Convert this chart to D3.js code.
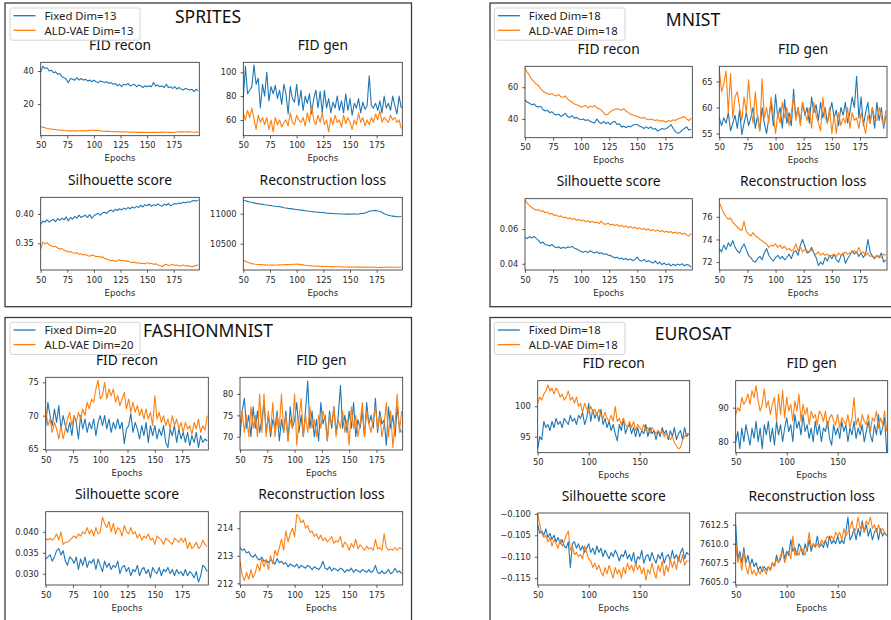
<!DOCTYPE html>
<html><head><meta charset="utf-8">
<script src="https://cdn.jsdelivr.net/npm/d3@7"></script>
<style>body{margin:0;background:#fff}svg{display:block}</style>
</head><body>
<svg id="c" width="891" height="620"></svg>
<script>
// ---------- x axis (epochs 50..198, every 2nd epoch) ----------
const epochs = d3.range(50, 199, 2);
const xTicksQuarter = [50, 75, 100, 125, 150, 175];
const xTicksHalf = [50, 100, 150];

// ---------- SPRITES ----------
const spritesFidReconFixed = [39.5,43,41.5,42,40,40.5,39,39.5,38,38.5, 36.5,36,35,33,35.5,35,34.5,36,34.5,35.5, 34.5,35,34,34.5,33.5,34.5,33.5,33,34,33.5, 33,33.5,32.5,33,32,32.5,31,32,30.5,32, 31.5,32.5,31,31.5,32,30.5,31.5,31,30,31, 30.5,31,30.5,33,31,31.5,30.5,31,30,32, 30,30.5,29.5,30.5,29,30,29,28.5,29.5,29, 28.5,29,27.5,29,28];
const spritesFidReconAld = [6.2,6.0,5.6,5.2,5.0,4.8,4.7,4.5,4.3,4.1, 4.2,4.0,3.8,3.7,3.6,3.8,3.7,3.6,3.8,3.9, 3.8,3.7,3.9,4.0,4.1,4.2,4.0,3.9,3.8,3.6, 3.5,3.6,3.4,3.3,3.2,3.3,3.2,3.1,3.2,3.0, 3.1,3.0,2.9,3.0,2.9,2.8,2.9,2.8,2.8,2.7, 2.8,2.7,2.8,2.9,2.8,2.7,2.9,2.8,3.0,2.9, 2.8,2.9,2.7,2.9,3.0,3.1,3.2,3.1,3.0,3.1, 3.2,3.0,2.9,3.0,2.8];
const spritesFidGenFixed = [78,105,82,85,88,106,90,95,70,90, 80,100,76,88,82,89,78,85,73,90, 82,65,88,78,75,90,72,85,68,80, 74,82,65,78,85,70,84,66,85,70, 78,66,75,70,80,68,76,66,82,68, 78,64,74,70,78,66,75,69,72,97, 72,70,74,68,76,66,80,70,74,68, 80,72,65,80,70];
const spritesFidGenAld = [66,60,68,62,70,61,52,64,58,62, 56,62,52,60,50,62,56,60,54,58, 60,55,66,58,56,64,60,58,62,55, 66,58,72,60,56,64,58,66,56,60, 50,62,56,64,58,60,54,64,57,62, 58,52,60,56,66,58,62,55,60,56, 62,58,65,60,68,58,62,60,58,64, 60,62,58,60,53];
const spritesSilFixed = [0.382,0.388,0.386,0.390,0.386,0.389,0.391,0.387,0.392,0.389, 0.393,0.390,0.395,0.388,0.394,0.391,0.396,0.393,0.398,0.394, 0.396,0.398,0.394,0.399,0.393,0.397,0.399,0.401,0.398,0.402, 0.403,0.401,0.405,0.407,0.404,0.408,0.406,0.409,0.407,0.410, 0.408,0.411,0.409,0.412,0.410,0.413,0.411,0.415,0.412,0.416, 0.414,0.417,0.413,0.416,0.414,0.417,0.415,0.413,0.417,0.415, 0.418,0.414,0.416,0.418,0.417,0.419,0.418,0.420,0.419,0.421, 0.420,0.422,0.423,0.422,0.424];
const spritesSilAld = [0.340,0.352,0.349,0.351,0.347,0.346,0.344,0.345,0.342,0.340, 0.341,0.338,0.337,0.335,0.336,0.334,0.333,0.334,0.331,0.332, 0.330,0.331,0.329,0.328,0.330,0.329,0.327,0.328,0.326,0.327, 0.324,0.323,0.322,0.320,0.321,0.319,0.320,0.322,0.320,0.321, 0.319,0.320,0.318,0.317,0.318,0.316,0.317,0.315,0.316,0.315, 0.317,0.315,0.316,0.314,0.315,0.313,0.312,0.310,0.313,0.314, 0.312,0.313,0.314,0.312,0.313,0.311,0.312,0.313,0.311,0.312, 0.311,0.310,0.311,0.312,0.313];
const spritesRecFixed = [11228,11215,11205,11195,11190,11180,11172,11168,11160,11155, 11148,11144,11140,11135,11128,11125,11120,11115,11110,11100, 11095,11088,11085,11080,11075,11068,11065,11060,11055,11050, 11044,11040,11036,11030,11028,11025,11022,11020,11015,11010, 11008,11005,11003,11000,10998,10996,10995,10994,10992,10995, 10992,10995,10998,10990,10996,11002,11006,11010,11025,11042, 11050,11048,11055,11045,11040,11020,11000,10985,10975,10965, 10960,10955,10950,10948,10952];
const spritesRecAld = [10228,10205,10190,10178,10168,10162,10158,10154,10152,10150, 10148,10146,10145,10143,10144,10146,10145,10148,10150,10149, 10152,10154,10150,10155,10158,10160,10156,10152,10148,10142, 10138,10134,10130,10128,10126,10125,10124,10122,10120,10122, 10120,10118,10119,10117,10116,10115,10114,10113,10112,10111, 10110,10112,10111,10110,10112,10110,10111,10109,10110,10108, 10110,10108,10106,10104,10105,10106,10108,10110,10108,10107, 10109,10108,10107,10109,10108];

// ---------- MNIST ----------
const mnistFidReconFixed = [52,50.5,50,49,49.5,48,47.5,48,46,45, 45.5,44,44.5,43,42.5,43,41.5,42.5,43.5,41.5, 41,42,40.5,41,40,39.5,40,39,39.5,38.5, 38,37.5,40,38,37,38.5,37,38,36.5,38, 38.5,36.5,37,35,35.5,34.5,35.5,35,36,36.5, 36.5,35.5,35,34,35,34,35,33.5,34,32.5, 33,34,33.5,34,35,36.5,34,32,31,31.5, 33,34,35,33,33.5];
const mnistFidReconAld = [72,69.5,67.5,65,63.5,62,61,59,57.5,56.5, 56,55.5,56,55,54.5,55.5,54,53.5,54.5,52.5, 51.5,50.5,49.5,49,48.5,47.5,48,48.5,47,48, 47.5,48.5,47,46.5,45.5,44,42.5,43,44.5,45.5, 46,46.5,46,45.5,46.5,45,44,43,42.5,42, 41.5,41,40.5,41,40,39.5,40,39.5,39,39.5, 38.5,39,38.5,38,39,38.5,39.5,39,40,40.5, 41,41.5,40,39,40.5];
const mnistFidGenFixed = [58,56.5,58,57,59,55.5,57,58.5,56,59.5, 54.8,57,59,56.5,58,60,56,58.5,55.5,60, 57,55,58,61,56.5,62.5,58,60,56,61.5, 57,59,56.5,63.5,58,60,57,61,58.5,60, 57,62,59,60.5,57.5,61,58,60,57,59, 61,58,59.5,56.5,60,58.5,61,57,59,62, 60,66,58,62,56.5,59,61,57,60,56, 61,57.5,60,56,58.5];
const mnistFidGenAld = [67.5,63,64.5,67,59,66.5,58,62,63,60, 57.5,62,59,65.3,60,57,63,58,55.5,65.5, 58,60,57,62,58.5,55,59,57,61,58, 60,56.5,59,62,57.5,60,56.5,61,59,57.5, 60,56,61,58.5,57,55.5,62,58,57,60, 55,58.5,55,59,56.5,58,57,60,56,59, 57.5,58,56,59,57,55,58.5,57,60,58, 57.5,60,58,56.5,59.5];
const mnistSilFixed = [0.0552,0.0545,0.0556,0.0548,0.0558,0.0546,0.0535,0.0518,0.0525,0.0510, 0.0508,0.0502,0.0512,0.0498,0.0492,0.0498,0.0488,0.0495,0.0490,0.0497, 0.0495,0.0500,0.0490,0.0485,0.0478,0.0470,0.0466,0.0472,0.0464,0.0475, 0.0468,0.0462,0.0470,0.0459,0.0463,0.0455,0.0458,0.0450,0.0447,0.0440, 0.0434,0.0438,0.0428,0.0433,0.0424,0.0430,0.0422,0.0427,0.0418,0.0425, 0.0438,0.0420,0.0415,0.0425,0.0412,0.0418,0.0410,0.0404,0.0416,0.0400, 0.0409,0.0395,0.0404,0.0392,0.0400,0.0388,0.0397,0.0390,0.0398,0.0392, 0.0400,0.0388,0.0396,0.0392,0.0379];
const mnistSilAld = [0.0767,0.0748,0.0735,0.0724,0.0716,0.0710,0.0712,0.0702,0.0706,0.0694, 0.0698,0.0686,0.0690,0.0678,0.0682,0.0672,0.0676,0.0666,0.0670,0.0660, 0.0665,0.0656,0.0660,0.0650,0.0655,0.0647,0.0652,0.0643,0.0648,0.0638, 0.0645,0.0636,0.0640,0.0632,0.0645,0.0630,0.0628,0.0634,0.0624,0.0628, 0.0620,0.0626,0.0615,0.0621,0.0612,0.0618,0.0608,0.0614,0.0606,0.0611, 0.0600,0.0608,0.0598,0.0603,0.0594,0.0600,0.0590,0.0597,0.0588,0.0594, 0.0585,0.0592,0.0582,0.0588,0.0580,0.0586,0.0576,0.0583,0.0574,0.0580, 0.0570,0.0576,0.0566,0.0560,0.0575];
const mnistRecFixed = [73.2,72.9,73.5,73.1,73.7,73.4,73.9,73.3,73.0,72.8, 73.3,73.6,73.1,72.6,72.4,72.1,72.0,72.3,72.5,72.2, 72.8,73.2,72.6,72.3,72.1,72.4,72.6,72.3,72.5,72.2, 72.4,72.7,72.3,72.9,73.0,72.6,73.5,74.0,73.4,72.8, 72.9,73.3,72.8,72.4,71.7,72.0,71.8,72.4,72.1,72.6, 72.3,72.7,72.2,72.0,72.5,72.8,71.9,72.3,72.6,73.0, 72.7,72.9,72.5,72.8,72.4,72.7,74.0,72.9,72.5,72.3, 72.6,72.4,72.8,72.0,72.2];
const mnistRecAld = [77.3,76.8,76.3,76.0,75.8,75.9,75.5,75.3,75.1,74.9, 74.8,75.6,74.7,74.5,74.3,74.6,74.3,74.2,74.0,73.9, 73.7,73.6,73.3,73.5,73.4,73.6,73.3,73.5,73.2,73.4, 73.1,73.2,73.0,73.1,73.6,73.0,73.3,72.9,73.1,73.0, 72.9,73.1,72.8,72.7,72.9,72.6,72.8,72.6,72.7,72.5, 72.6,72.7,72.5,72.8,72.6,72.7,72.9,72.7,72.8,72.9, 73.0,72.8,73.3,72.8,72.9,72.6,72.8,72.5,72.6,72.4, 72.6,72.5,72.4,72.7,72.6];

// ---------- FASHIONMNIST ----------
const fashionFidReconFixed = [68.5,72,70,68.5,71,69,71.5,68,70,68.5, 67.5,69,67,70,69,66.5,70,68,69.5,67.5, 69,68,69.5,67,69,70,68.5,70,68,69.5, 67.5,69,68,69.5,68,69,65.8,68,68.5,70.3, 67.5,69,68,66.5,68.5,67,69,66,68.5,67, 68.5,66.5,68,67,68.5,66,65.2,68,67,68.5, 66,68,66.5,67.5,66,67.5,65.5,67,66,67.5, 65.2,67,66,66.5,66.2];
const fashionFidReconAld = [71,68.5,69.5,67.5,69,68,66.5,68.5,66.5,68, 69.5,70.5,68.5,70,69,70.5,69.5,71,70,72, 71,72.5,72,74,75.3,72.5,73,75,72.5,74, 73,74,72,73,71.5,72.5,73.5,71,72.5,70.5, 72,70.5,71.5,70,71,69.5,71,69.5,70.5,68.5, 73,69.5,70.5,69,70,68.5,69.5,68,70,68.5, 69.5,68,69,67.5,69,68,68.5,67.2,69,68, 69.5,67.5,68.5,67.8,70];
const fashionFidGenFixed = [70,76,79,72,75,70,77,72,76,71, 74,78,71,75,70,74,72,76,69,74, 71,76,69,77,72,74,78,71,75,70, 76,83,72,76,70,74,69,78,73,75, 69,76,72,77,71,75,82,72,75,71, 76,72,78,70,74,72,76,70,78,73, 75,72,79,71,76,73,74,68,77,72, 75,70,77,72,71];
const fashionFidGenAld = [73,76,71,75,70,77,72,75,70,80, 71,80,70,76,71,78,70,75,72,80, 71,75,69,74,72,80,68,74,79,70, 75,71,77,72,74,70,75,72,76,74, 69,75,73,77,70,74,72,76,71,74, 68,77,72,75,70,73,78,70,76,73, 71,74,77,72,75,70,73,78,70,76, 67.5,73,80,71,76];
const fashionSilFixed = [0.0335,0.034,0.0345,0.033,0.034,0.0355,0.036,0.0345,0.0355,0.033, 0.032,0.034,0.0335,0.0325,0.034,0.031,0.0335,0.032,0.034,0.0315, 0.033,0.0325,0.0335,0.031,0.0335,0.032,0.0305,0.033,0.0315,0.0325, 0.031,0.032,0.0315,0.033,0.030,0.0315,0.032,0.0305,0.0315,0.0295, 0.031,0.0305,0.032,0.0295,0.031,0.0315,0.030,0.031,0.029,0.0315, 0.0305,0.030,0.0315,0.0295,0.031,0.0305,0.0315,0.030,0.031,0.0295, 0.031,0.030,0.0305,0.0295,0.031,0.0295,0.0305,0.030,0.029,0.0305, 0.028,0.0295,0.032,0.0315,0.0305];
const fashionSilAld = [0.0385,0.038,0.0385,0.038,0.0385,0.0395,0.038,0.040,0.037,0.0375, 0.0375,0.038,0.0385,0.039,0.0385,0.0395,0.039,0.040,0.0395,0.041, 0.0395,0.0405,0.039,0.041,0.0395,0.040,0.0435,0.042,0.041,0.0425, 0.040,0.042,0.0395,0.041,0.0405,0.039,0.0415,0.040,0.0395,0.041, 0.0395,0.040,0.0385,0.0395,0.038,0.039,0.0385,0.0395,0.038,0.0385, 0.037,0.039,0.0385,0.038,0.037,0.0385,0.038,0.0375,0.037,0.0385, 0.038,0.0375,0.0385,0.0375,0.0385,0.036,0.0375,0.036,0.0365,0.0375, 0.036,0.0365,0.038,0.037,0.0365];
const fashionRecFixed = [213.3,213.2,213.25,213.1,213.15,213.0,212.95,213.05,212.9,212.85, 212.95,212.8,212.85,212.75,212.85,212.8,212.7,212.9,212.75,212.8, 212.7,212.75,212.6,212.7,212.65,212.6,212.7,212.55,212.65,212.6, 212.55,212.65,212.6,212.5,212.6,212.55,212.5,212.6,212.8,212.55, 212.5,212.6,212.45,212.55,212.5,212.45,212.55,212.5,212.4,212.5, 212.45,212.55,212.4,212.5,212.45,212.4,212.5,212.45,212.4,212.5, 212.4,212.45,212.65,212.4,212.35,212.45,212.35,212.4,212.5,212.35, 212.4,212.55,212.4,212.45,212.35];
const fashionRecAld = [212.8,212.3,212.1,212.4,212.15,212.5,212.2,212.4,212.7,212.45, 212.9,212.6,212.85,212.5,213.0,212.7,213.2,213.0,213.3,213.6, 213.2,213.9,213.5,213.8,214.0,213.7,214.5,214.4,214.2,214.3, 214.0,214.1,213.85,213.9,213.7,213.8,213.6,213.75,213.55,213.65, 213.5,213.6,213.7,213.45,213.55,213.5,213.7,213.3,213.5,213.4, 213.2,213.45,213.3,213.6,213.25,213.4,213.3,213.2,213.35,213.25, 213.3,213.2,213.6,213.25,213.3,213.2,213.8,213.3,213.2,213.25, 213.2,213.3,213.2,213.3,213.25];

// ---------- EUROSAT ----------
const eurosatFidReconFixed = [93,95,94.5,97.5,96.5,97,96,97.5,96.5,98, 97,97.5,96.5,98,97.5,97,98.5,97.5,98,97, 98.5,98,99,97,98,100.5,97.5,99.5,98,99, 97.5,99.5,97,98,96.5,97.5,96,97,95.5,94.3, 97,96,98,95.5,96.5,97,95.5,96.5,95,96.5, 95,96,95.5,97,95,96.5,95.5,96,94.5,96, 95,96.5,95.5,96,94.5,96,95,96.5,94.5,95.5, 96,94.5,96.5,95,95.5];
const eurosatFidReconAld = [100.5,101.5,101,102,102.5,103.5,102.5,103,102,103, 102.5,101.5,102,101,101.5,102.5,101,101.5,100.5,101.5, 100,100.5,99,100.5,99.5,99,100,99,99.5,98.5, 99.5,98.5,98,99,98,97.5,98.5,97.5,100,97.5, 98,97,98,97,96.5,97.5,96.5,97.5,96,97, 96.5,96,97,96,96.5,95.5,96.5,96,95.5,96, 95.5,96,95,95.5,95,94.5,95,94,93.5,93, 93.2,94.5,95,95.5,95.5];
const eurosatFidGenFixed = [80,83,78,84,80,85,82,79,84,81, 86,80,84,78,85,82,86,80,84,79, 86,82,85,80,84,87,83,85,80,88, 84,86,82,88,83,85,81,84,80,86, 82,85,80,84,83,86,81,79,85,82, 84,81,86,83,85,80,84,82,86,81, 84,82,85,80,83,86,82,80,85,82, 88,82,84,87,77];
const eurosatFidGenAld = [88,90,89,93,91,92,94,91,95,93, 96.5,92,89,91,95.5,90,92,88,91,93, 86,94,88,95,87,93,89,91,86,92, 89,94,86,91,88,90,85,89,87,88, 85,89,88,86,89,84,87,88,86,85, 88,84,87,86,85,88,84,87,93,85, 87,84,88,86,85,88,83,87,86,89, 84,87,85,89,83];
const eurosatSilFixed = [-0.1025,-0.1045,-0.1040,-0.1050,-0.1035,-0.1055,-0.1045,-0.1060,-0.1050,-0.1065, -0.1055,-0.1070,-0.1060,-0.1075,-0.1080,-0.1065,-0.1125,-0.1070,-0.1065,-0.1080, -0.1070,-0.1085,-0.1075,-0.1090,-0.1080,-0.1070,-0.1090,-0.1080,-0.1095,-0.1075, -0.1090,-0.1080,-0.1100,-0.1085,-0.1095,-0.1105,-0.1090,-0.1100,-0.1085,-0.1095, -0.1110,-0.1095,-0.1100,-0.1085,-0.1105,-0.1095,-0.1110,-0.1090,-0.1120,-0.1100, -0.1105,-0.1085,-0.1115,-0.1100,-0.1095,-0.1110,-0.1090,-0.1105,-0.1115,-0.1095, -0.1105,-0.1090,-0.1115,-0.1100,-0.1095,-0.1110,-0.1085,-0.1105,-0.1095,-0.1110, -0.1090,-0.1080,-0.1105,-0.1090,-0.1095];
const eurosatSilAld = [-0.1000,-0.1025,-0.1045,-0.1055,-0.1050,-0.1065,-0.1055,-0.1075,-0.1060,-0.1070, -0.1080,-0.1060,-0.1075,-0.1065,-0.1050,-0.1040,-0.1085,-0.1075,-0.1095,-0.1090, -0.1100,-0.1095,-0.1105,-0.1075,-0.1090,-0.1105,-0.1110,-0.1125,-0.1115,-0.1130, -0.1120,-0.1135,-0.1145,-0.1125,-0.1140,-0.1120,-0.1135,-0.1150,-0.1125,-0.1140, -0.1130,-0.1150,-0.1125,-0.1140,-0.1115,-0.1130,-0.1120,-0.1135,-0.1115,-0.1130, -0.1120,-0.1140,-0.1125,-0.1155,-0.1130,-0.1140,-0.1115,-0.1135,-0.1150,-0.1120, -0.1135,-0.1110,-0.1145,-0.1120,-0.1135,-0.1105,-0.1125,-0.1110,-0.1130,-0.1100, -0.1115,-0.1095,-0.1120,-0.1110,-0.1110];
const eurosatRecFixed = [7612.5,7608,7609,7607.5,7609.5,7607.5,7608.5,7607,7608,7607, 7607.5,7606.5,7607,7606.3,7607,7606.5,7607,7606.5,7607.5,7607, 7608.5,7607.5,7608,7609.5,7608,7609,7608.5,7610.5,7609,7609.5, 7608.5,7610,7609.5,7608.5,7610,7609,7610.5,7609,7610,7609.5, 7611,7609.5,7610,7609.5,7610.5,7609.5,7611,7610,7610.5,7610, 7611,7610,7610.5,7610,7611.5,7613.5,7610.5,7611,7612,7610.5, 7612,7611,7613,7611.5,7612.5,7611,7612,7610.5,7611.5,7612, 7610.5,7612,7611,7611.5,7611];
const eurosatRecAld = [7610,7607.5,7608.5,7606.5,7609,7607,7606,7607.5,7606,7606.5, 7605.8,7606.5,7606,7607,7606.5,7606,7607,7606.5,7607.5,7607, 7608,7607.5,7608.5,7609,7607.5,7608.5,7609,7608,7611,7608.5, 7609,7608.5,7609.5,7609,7608.5,7609.5,7611.5,7609.5,7610,7609.5, 7610,7609.5,7610.5,7610,7610.5,7611,7610.5,7611,7610.5,7611.5, 7611,7611.5,7610.5,7612,7611,7611.5,7612,7613,7611.5,7612, 7613.5,7612,7612.5,7611.5,7613,7612.5,7613.5,7612,7612.5,7611.5, 7612.5,7611.5,7612,7611.5,7611];

// ---------- y tick values ----------
const spritesYTicks = [[20, 40], [60, 80, 100], [0.35, 0.40], [10500, 11000]];
const mnistYTicks = [[40, 60], [55, 60, 65], [0.04, 0.06], [72, 74, 76]];
const fashionYTicks = [[65, 70, 75], [70, 75, 80], [0.030, 0.035, 0.040], [212, 213, 214]];
const eurosatYTicks = [[95, 100], [80, 90], [-0.115, -0.110, -0.105, -0.100], [7605, 7607.5, 7610, 7612.5]];

const subTitles = ["FID recon", "FID gen", "Silhouette score", "Reconstruction loss"];
const panelTitles = ["SPRITES", "MNIST", "FASHIONMNIST", "EUROSAT"];
const legendDims = [13, 18, 20, 18];

// ---------- layout (positions / styles only) ----------
const BLUE = "#1f77b4", ORANGE = "#ff7f0e";
const svg = d3.select("#c");

const panels = [
  { frame: [5, 3, 411.5, 306.7], title: [208, 22.5], legend: [10, 8, 130],
    boxes: [[40.7, 62.3, 199.3, 135.7], [243.3, 62.3, 402.3, 135.7], [40.7, 197.3, 199.3, 270], [243.3, 197.3, 402.3, 270]],
    ydoms: [[0.8, 45.3], [46.8, 108.4], [0.3044, 0.4285], [10062, 11273]],
    fmts: ["d", "d", ".2f", "d"], yticks: spritesYTicks, xticks: xTicksQuarter,
    series: [[spritesFidReconFixed, spritesFidReconAld], [spritesFidGenFixed, spritesFidGenAld], [spritesSilFixed, spritesSilAld], [spritesRecFixed, spritesRecAld]] },
  { frame: [490, 3, 900, 306.7], title: [693, 25.5], legend: [494.3, 8, 130.7],
    boxes: [[525, 66.3, 692.3, 137.7], [719.3, 66.3, 887, 137.7], [525, 198.7, 692.3, 270], [719.3, 198.7, 887, 270]],
    ydoms: [[28.2, 73.2], [54.2, 67.9], [0.0364, 0.0775], [71.3, 77.6]],
    fmts: ["d", "d", ".2f", "d"], yticks: mnistYTicks, xticks: xTicksQuarter,
    series: [[mnistFidReconFixed, mnistFidReconAld], [mnistFidGenFixed, mnistFidGenAld], [mnistSilFixed, mnistSilAld], [mnistRecFixed, mnistRecAld]] },
  { frame: [5, 317.5, 411.5, 640], title: [208, 337], legend: [10, 322.3, 130],
    boxes: [[45.7, 377.3, 208.3, 450], [240, 377.3, 402.7, 450], [45.7, 511.7, 208.3, 585], [240, 511.7, 402.7, 585]],
    ydoms: [[64.85, 75.75], [66.9, 83.9], [0.0273, 0.0448], [211.94, 214.6]],
    fmts: ["d", "d", ".3f", "d"], yticks: fashionYTicks, xticks: xTicksQuarter,
    series: [[fashionFidReconFixed, fashionFidReconAld], [fashionFidGenFixed, fashionFidGenAld], [fashionSilFixed, fashionSilAld], [fashionRecFixed, fashionRecAld]] },
  { frame: [490, 317.5, 900, 640], title: [693, 340], legend: [494.3, 322.3, 130.7],
    boxes: [[537.7, 380.7, 689.7, 452.7], [735.7, 380.7, 887.7, 452.7], [537.7, 513, 689.7, 585], [735.7, 513, 887.7, 585]],
    ydoms: [[92.36, 104.2], [76.8, 97.9], [-0.1166, -0.0998], [7604.57, 7614.04]],
    fmts: ["d", "d", ".3f", ".1f"], yticks: eurosatYTicks, xticks: xTicksHalf,
    series: [[eurosatFidReconFixed, eurosatFidReconAld], [eurosatFidGenFixed, eurosatFidGenAld], [eurosatSilFixed, eurosatSilAld], [eurosatRecFixed, eurosatRecAld]] }
];

let clipId = 0;
panels.forEach((p, pi) => {
  const [fx0, fy0, fx1, fy1] = p.frame;
  svg.append("rect").attr("x", fx0).attr("y", fy0).attr("width", fx1 - fx0).attr("height", fy1 - fy0)
    .attr("fill", "none").attr("stroke", "#3a3a3a").attr("stroke-width", 1.3);

  p.boxes.forEach((b, si) => {
    const [x0, y0, x1, y1] = b;
    const x = d3.scaleLinear().domain([50, 199]).range([x0, x1]);
    const y = d3.scaleLinear().domain(p.ydoms[si]).range([y1, y0]);
    const g = svg.append("g");
    const cid = "clip" + (clipId++);
    g.append("clipPath").attr("id", cid).append("rect").attr("x", x0).attr("y", y0).attr("width", x1 - x0).attr("height", y1 - y0);

    const line = d3.line().defined((d, i) => i < epochs.length).x((d, i) => x(epochs[i])).y(d => y(d));
    const [fixed, ald] = p.series[si];
    g.append("path").datum(fixed).attr("d", line).attr("fill", "none").attr("stroke", BLUE).attr("stroke-width", 1.1).attr("stroke-linejoin", "round").attr("clip-path", `url(#${cid})`);
    g.append("path").datum(ald).attr("d", line).attr("fill", "none").attr("stroke", ORANGE).attr("stroke-width", 1.1).attr("stroke-linejoin", "round").attr("clip-path", `url(#${cid})`);

    const xa = g.append("g").attr("transform", `translate(0,${y1})`)
      .call(d3.axisBottom(x).tickValues(p.xticks).tickSize(2.8).tickPadding(4).tickFormat(d3.format("d")));
    const ya = g.append("g").attr("transform", `translate(${x0},0)`)
      .call(d3.axisLeft(y).tickValues(p.yticks[si]).tickSize(2.8).tickPadding(4).tickFormat(d3.format(p.fmts[si])));
    [xa, ya].forEach(a => {
      a.select(".domain").remove();
      a.selectAll(".tick line").attr("stroke", "#333").attr("stroke-width", 0.8);
      a.selectAll(".tick text").attr("fill", "#2a2a2a").style("font-family", "DejaVu Sans").style("font-size", "8.3px");
    });
    g.append("rect").attr("x", x0).attr("y", y0).attr("width", x1 - x0).attr("height", y1 - y0)
      .attr("fill", "none").attr("stroke", "#2a2a2a").attr("stroke-width", 0.8);

    g.append("text").attr("x", (x0 + x1) / 2).attr("y", y1 + 25.6).attr("text-anchor", "middle")
      .style("font-family", "DejaVu Sans").style("font-size", "8.6px").attr("fill", "#2a2a2a").text("Epochs");
    g.append("text").attr("x", (x0 + x1) / 2).attr("y", y0 - 12.4).attr("text-anchor", "middle")
      .style("font-family", "Noto Sans").style("font-size", "13.8px").attr("fill", "#111").text(subTitles[si]);
  });

  svg.append("text").attr("x", p.title[0]).attr("y", p.title[1]).attr("text-anchor", "middle")
    .style("font-family", "Noto Sans").style("font-size", "17.5px").attr("fill", "#111").text(panelTitles[pi]);

  const [lx, ly, lw] = p.legend;
  const lg = svg.append("g").attr("transform", `translate(${lx},${ly})`);
  lg.append("rect").attr("x", 0).attr("y", 0).attr("width", lw).attr("height", 32.2).attr("rx", 2)
    .attr("fill", "#fff").attr("fill-opacity", 0.85).attr("stroke", "#d0d0d0").attr("stroke-width", 0.9);
  const labels = [`Fixed Dim=${legendDims[pi]}`, `ALD-VAE Dim=${legendDims[pi]}`];
  [BLUE, ORANGE].forEach((c, k) => {
    lg.append("line").attr("x1", 3.5).attr("x2", 25.5).attr("y1", 7.7 + k * 14.6).attr("y2", 7.7 + k * 14.6)
      .attr("stroke", c).attr("stroke-width", 1.3);
    lg.append("text").attr("x", 34.5).attr("y", 12 + k * 14.6)
      .style("font-family", "Noto Sans").style("font-size", "11.3px").attr("fill", "#222").text(labels[k]);
  });
});
</script>
</body></html>
